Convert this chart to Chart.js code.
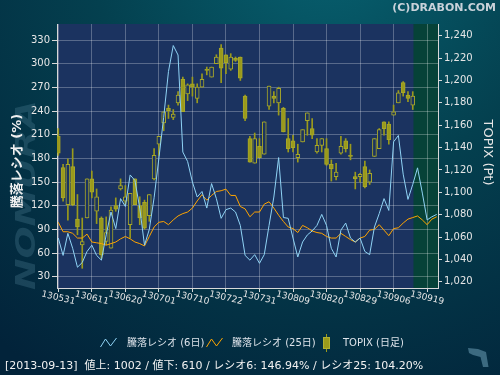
<!DOCTYPE html>
<html>
<head>
<meta charset="utf-8">
<script src="https://cdn.jsdelivr.net/npm/chart.js@4/dist/chart.umd.min.js"></script>
<style>
  html, body { margin: 0; padding: 0; background: #03283f; }
  #wrap { width: 500px; height: 375px; }
</style>
</head>
<body>
<div id="wrap"><canvas id="chart" width="500" height="375"></canvas></div>
<script>
// 日付ラベル (7営業日ごと)
const dateLabels = ['130531', '130611', '130620', '130701', '130710', '130722',
  '130731', '130809', '130820', '130829', '130906', '130919'];
const labelStep = 7;
const lastIndex = 74; // 2013-09-13

// 騰落レシオ (6日)
const ratio6 = [79, 57, 85, 66, 42, 48, 62, 70, 57, 51,
  83, 112, 91, 129, 119, 159, 152, 117, 70, 90,
  130, 180, 232, 290, 323, 311, 188, 176, 150, 131,
  138, 117, 148, 129, 104, 115, 117, 112, 95, 57,
  51, 58, 47, 58, 95, 131, 181, 105, 104, 79,
  55, 74, 83, 88, 95, 109, 95, 66, 55, 89,
  98, 79, 74, 79, 62, 58, 93, 110, 129, 114,
  201, 209, 160, 128, 147, 168, 136, 102, 106, 109];

// 騰落レシオ (25日)
const ratio25 = [99, 87, 87, 85, 79, 79, 84, 74, 73, 72,
  70, 72, 74, 78, 81, 78, 74, 72, 69, 81,
  93, 99, 100, 96, 102, 107, 110, 112, 117, 126,
  134, 127, 133, 138, 139, 141, 133, 133, 119, 116,
  106, 112, 112, 122, 125, 117, 108, 100, 93, 91,
  86, 95, 92, 88, 86, 85, 81, 79, 79, 85,
  81, 77, 74, 79, 81, 89, 90, 96, 89, 82,
  91, 92, 98, 103, 105, 107, 102, 96, 103, 106];

// TOPIX (日足)
const topixOpen = [1150, 1122, 1089, 1123, 1076, 1053, 1077, 1112, 1083, 1077,
  1056, 1050, 1088, 1103, 1092, 1071, 1112, 1088, 1091, 1079,
  1112, 1143, 1162, 1175, 1167, 1180, 1201, 1188, 1197, 1184,
  1194, 1210, 1203, 1215, 1229, 1223, 1210, 1220, 1221, 1186,
  1148, 1126, 1141, 1134, 1177, 1186, 1180, 1175, 1148, 1146,
  1131, 1145, 1164, 1157, 1136, 1142, 1139, 1125, 1114, 1135,
  1146, 1133, 1114, 1114, 1123, 1109, 1132, 1139, 1163, 1161,
  1169, 1180, 1198, 1187, 1178];
const topixHigh = [1157, 1125, 1130, 1139, 1098, 1077, 1112, 1119, 1103, 1078,
  1078, 1087, 1095, 1112, 1106, 1099, 1112, 1096, 1093, 1098,
  1139, 1150, 1172, 1178, 1174, 1190, 1203, 1197, 1203, 1197,
  1206, 1212, 1212, 1223, 1232, 1223, 1224, 1221, 1221, 1187,
  1150, 1153, 1148, 1163, 1195, 1190, 1194, 1176, 1166, 1151,
  1143, 1156, 1171, 1166, 1148, 1148, 1148, 1129, 1126, 1150,
  1148, 1143, 1118, 1117, 1128, 1120, 1148, 1157, 1163, 1163,
  1178, 1191, 1199, 1190, 1190];
const topixLow = [1133, 1092, 1075, 1088, 1062, 1032, 1077, 1095, 1072, 1041,
  1053, 1050, 1083, 1102, 1089, 1059, 1089, 1071, 1067, 1074,
  1111, 1133, 1155, 1166, 1165, 1178, 1172, 1182, 1186, 1180,
  1194, 1205, 1203, 1215, 1198, 1206, 1209, 1217, 1200, 1164,
  1127, 1126, 1131, 1134, 1174, 1180, 1169, 1154, 1136, 1136,
  1127, 1145, 1151, 1148, 1135, 1136, 1124, 1110, 1111, 1134,
  1136, 1129, 1103, 1109, 1104, 1107, 1132, 1139, 1151, 1143,
  1169, 1180, 1186, 1181, 1174];
const topixClose = [1135, 1095, 1125, 1089, 1069, 1056, 1112, 1100, 1096, 1044,
  1064, 1084, 1085, 1106, 1096, 1099, 1089, 1077, 1068, 1098,
  1133, 1150, 1172, 1173, 1170, 1187, 1172, 1196, 1194, 1194,
  1201, 1209, 1212, 1221, 1211, 1216, 1221, 1218, 1202, 1166,
  1127, 1148, 1131, 1163, 1195, 1184, 1193, 1154, 1139, 1140,
  1134, 1156, 1171, 1151, 1142, 1148, 1125, 1121, 1118, 1141,
  1139, 1132, 1112, 1116, 1105, 1117, 1148, 1156, 1157, 1147,
  1172, 1189, 1189, 1184, 1186];

const leftTicks = [30, 60, 90, 120, 150, 180, 210, 240, 270, 300, 330];
const rightTicks = [1020, 1040, 1060, 1080, 1100, 1120, 1140, 1160, 1180, 1200, 1220, 1240];

const seriesNames = ['騰落レシオ (6日)', '騰落レシオ (25日)', 'TOPIX (日足)'];
const statusText = '[2013-09-13]  値上: 1002 / 値下: 610 / レシオ6: 146.94% / レシオ25: 104.20%';

const FONT = '"DejaVu Sans", "Noto Sans CJK JP", sans-serif';
const plotBg = '#1b3360';
const olive = '#9a9a1c';
const gridColor = 'rgba(255,255,255,0.27)';
const axisColor = '#d8d8d8';

// 背景・凡例などの描画
const decor = {
  id: 'decor',
  beforeDraw(chart) {
    const { ctx, chartArea: a, scales } = chart;
    ctx.save();
    const g = ctx.createRadialGradient(330, -60, 10, 330, -60, 520);
    g.addColorStop(0, '#07606f');
    g.addColorStop(0.45, '#04404f');
    g.addColorStop(1, '#02233a');
    ctx.fillStyle = g;
    ctx.fillRect(0, 0, chart.width, chart.height);

    // 透かし
    ctx.save();
    ctx.translate(28, 290);
    ctx.rotate(-Math.PI / 2);
    ctx.scale(1.45, 1);
    ctx.font = 'italic bold 26px "DejaVu Sans"';
    ctx.fillStyle = 'rgba(90,140,160,0.28)';
    ctx.textBaseline = 'middle';
    ctx.fillText('NOMURA', 0, 0);
    ctx.restore();

    ctx.fillStyle = plotBg;
    ctx.fillRect(a.left, a.top, a.right - a.left, a.bottom - a.top);
    const fx = scales.x.getPixelForValue(lastIndex + 0.15);
    ctx.fillStyle = '#064238';
    ctx.fillRect(fx, a.top, a.right - fx, a.bottom - a.top);
    ctx.restore();
  },
  afterDraw(chart) {
    const { ctx, scales } = chart;
    ctx.save();

    // x軸ラベル (右下がり)
    ctx.fillStyle = '#e6e6e6';
    ctx.font = '9px ' + FONT;
    ctx.textAlign = 'center';
    ctx.textBaseline = 'middle';
    dateLabels.forEach((t, k) => {
      ctx.save();
      ctx.translate(scales.x.getPixelForValue(k * labelStep), 298);
      ctx.rotate(0.23);
      ctx.fillText(t, 0, 0);
      ctx.restore();
    });

    // 軸タイトル
    ctx.save();
    ctx.translate(18, 161);
    ctx.rotate(-Math.PI / 2);
    ctx.font = 'bold 13px ' + FONT;
    ctx.fillStyle = '#f0f0f0';
    ctx.fillText('騰落レシオ (%)', 0, 0);
    ctx.restore();
    ctx.save();
    ctx.translate(487, 152.5);
    ctx.rotate(Math.PI / 2);
    ctx.font = '13px ' + FONT;
    ctx.fillStyle = '#e6e6e6';
    ctx.fillText('TOPIX (Pt)', 0, 0);
    ctx.restore();

    // 凡例
    const zig = (x, y, color) => {
      ctx.strokeStyle = color;
      ctx.lineWidth = 1;
      ctx.beginPath();
      ctx.moveTo(x, y + 4);
      ctx.lineTo(x + 5, y - 4);
      ctx.lineTo(x + 10, y + 3);
      ctx.lineTo(x + 16, y - 5);
      ctx.stroke();
    };
    zig(100.5, 343, '#8fd3f5');
    zig(206.5, 343, '#ffa500');
    ctx.fillStyle = olive;
    ctx.fillRect(326, 334, 1, 18);
    ctx.fillRect(323, 337, 7, 12);
    ctx.strokeStyle = '#b0b030';
    ctx.strokeRect(323.5, 337.5, 6, 11);
    ctx.font = '10px ' + FONT;
    ctx.fillStyle = '#dde3ea';
    ctx.textAlign = 'left';
    ctx.fillText(seriesNames[0], 127, 343);
    ctx.fillText(seriesNames[1], 232, 343);
    ctx.fillText(seriesNames[2], 343, 343);

    // ステータス行
    ctx.font = '11px ' + FONT;
    ctx.fillStyle = '#f2f2f2';
    ctx.fillText(statusText, 5, 366);

    // コピーライト
    ctx.font = 'bold 11px ' + FONT;
    ctx.fillStyle = '#c9d2da';
    ctx.textAlign = 'right';
    ctx.fillText('(C)DRABON.COM', 496, 8);

    // 右下のアイコン
    ctx.fillStyle = '#3c6a80';
    ctx.beginPath();
    ctx.moveTo(468, 348); ctx.lineTo(478, 349); ctx.lineTo(486, 352);
    ctx.lineTo(488.5, 367); ctx.lineTo(483, 367); ctx.lineTo(480.5, 357);
    ctx.lineTo(473, 355); ctx.lineTo(469, 353);
    ctx.closePath();
    ctx.fill();
    ctx.restore();
  }
};

const tickFont = { family: FONT, size: 10 };

new Chart(document.getElementById('chart'), {
  type: 'line',
  data: {
    datasets: [
      {
        type: 'line', label: seriesNames[0],
        data: ratio6.map((v, i) => ({ x: i, y: v })),
        borderColor: '#8fd3f5', borderWidth: 1, pointRadius: 0, yAxisID: 'y', order: 0
      },
      {
        type: 'line', label: seriesNames[1],
        data: ratio25.map((v, i) => ({ x: i, y: v })),
        borderColor: '#ffa500', borderWidth: 1, pointRadius: 0, yAxisID: 'y', order: 1
      },
      {
        type: 'bar', label: seriesNames[2],
        data: topixOpen.map((o, i) => ({ x: i, y: [o, topixClose[i]] })),
        backgroundColor: topixOpen.map((o, i) => topixClose[i] >= o ? plotBg : olive),
        borderColor: '#a8a828', borderWidth: 1, borderSkipped: false,
        barThickness: 4, grouped: false, yAxisID: 'yR', order: 2
      },
      {
        type: 'bar', label: 'wick',
        data: topixLow.map((l, i) => ({ x: i, y: [l, topixHigh[i]] })),
        backgroundColor: olive, barThickness: 1, grouped: false, yAxisID: 'yR', order: 3
      }
    ]
  },
  options: {
    responsive: false,
    animation: false,
    layout: { padding: { top: 24, left: 0, right: 0, bottom: 0 } },
    plugins: { legend: { display: false }, tooltip: { enabled: false } },
    scales: {
      x: {
        type: 'linear', min: -0.27, max: 79.27, offset: false,
        afterBuildTicks: s => { s.ticks = dateLabels.map((_, k) => ({ value: k * labelStep })); },
        afterFit: s => { s.height = 87; },
        ticks: { display: false },
        grid: { color: gridColor, offset: false, tickLength: 4, tickColor: axisColor },
        border: { color: axisColor }
      },
      y: {
        position: 'left', min: 15.7, max: 350.3,
        afterBuildTicks: s => { s.ticks = leftTicks.map(v => ({ value: v })); },
        afterFit: s => { s.width = 57; },
        ticks: { color: '#e6e6e6', font: tickFont, padding: 2 },
        grid: { color: gridColor, tickLength: 5, tickColor: axisColor },
        border: { color: axisColor }
      },
      yR: {
        position: 'right', min: 1014.4, max: 1250.5, beginAtZero: false,
        afterBuildTicks: s => { s.ticks = rightTicks.map(v => ({ value: v })); },
        afterFit: s => { s.width = 62; },
        ticks: { color: '#e6e6e6', font: tickFont, padding: 2, callback: v => v.toLocaleString('en-US') },
        grid: { drawOnChartArea: false, tickLength: 4, tickColor: axisColor },
        border: { color: axisColor }
      }
    }
  },
  plugins: [decor]
});
</script>
</body>
</html>
